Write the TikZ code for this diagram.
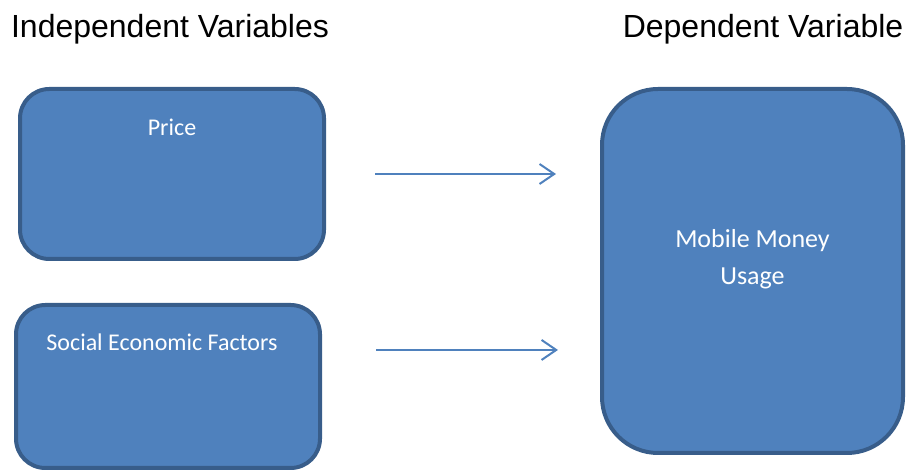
\documentclass[tikz,border=0pt]{standalone}
\usepackage{fontspec}
\setmainfont{Carlito}
\newfontfamily\arialfont{Liberation Sans}
\usetikzlibrary{arrows.meta,positioning}
\definecolor{boxfill}{RGB}{79,129,189}
\definecolor{boxline}{RGB}{56,93,138}
\tikzset{
	varbox/.style={draw=boxline,fill=boxfill,line width=3pt,rounded corners=22pt},
	boxtext/.style={text=white,font=\fontsize{18}{27.75}\selectfont,inner sep=0pt,align=center},
	vartitle/.style={font=\arialfont\fontsize{24}{28}\selectfont,inner sep=0pt,anchor=base},
	flow/.style={draw=boxfill,line width=1.5pt,-{Straight Barb[length=11pt,width=15pt]}}
}
\begin{document}
\begin{tikzpicture}[x=0.75pt,y=0.75pt]
	\useasboundingbox (0,0) rectangle (907,-473);
	%Khung 1
	\node[varbox,minimum width=228pt,minimum height=127.5pt] (price) at (172,-174) {};
	\node[boxtext,anchor=base] (pricetext) at ([yshift=-36.75pt]price.north) {Price};
	%Khung 2
	\node[varbox,minimum width=228pt,minimum height=122.25pt] (social) at (168,-386.5) {};
	\node[boxtext,anchor=base] (socialtext) at ([xshift=-4.5pt,yshift=-36pt]social.north) {Social Economic Factors};
	%Khung 3
	\node[varbox,rounded corners=42pt,minimum width=225.75pt,minimum height=273pt] (mobile) at (752.5,-271) {};
	\node[boxtext,font=\fontsize{19.5}{27.75}\selectfont] (mobiletext) at ([yshift=8.6pt]mobile.center) {Mobile Money\\Usage};
	%Tieu de
	\node[vartitle] (indep) at ([xshift=-1.5pt,yshift=36.75pt]price.north) {Independent Variables};
	\node[vartitle] (dep) at ([xshift=7.9pt,yshift=36.75pt]mobile.north) {Dependent Variable};
	%Mui ten
	\draw[flow,shorten <=36.75pt,shorten >=33pt] (price.east) -- (price.east -| mobile.west);
	\draw[flow,shorten <=40.5pt,shorten >=31.5pt] ([yshift=27.4pt]social.east) -- ([yshift=27.4pt]social.east -| mobile.west);
\end{tikzpicture}
\end{document}
